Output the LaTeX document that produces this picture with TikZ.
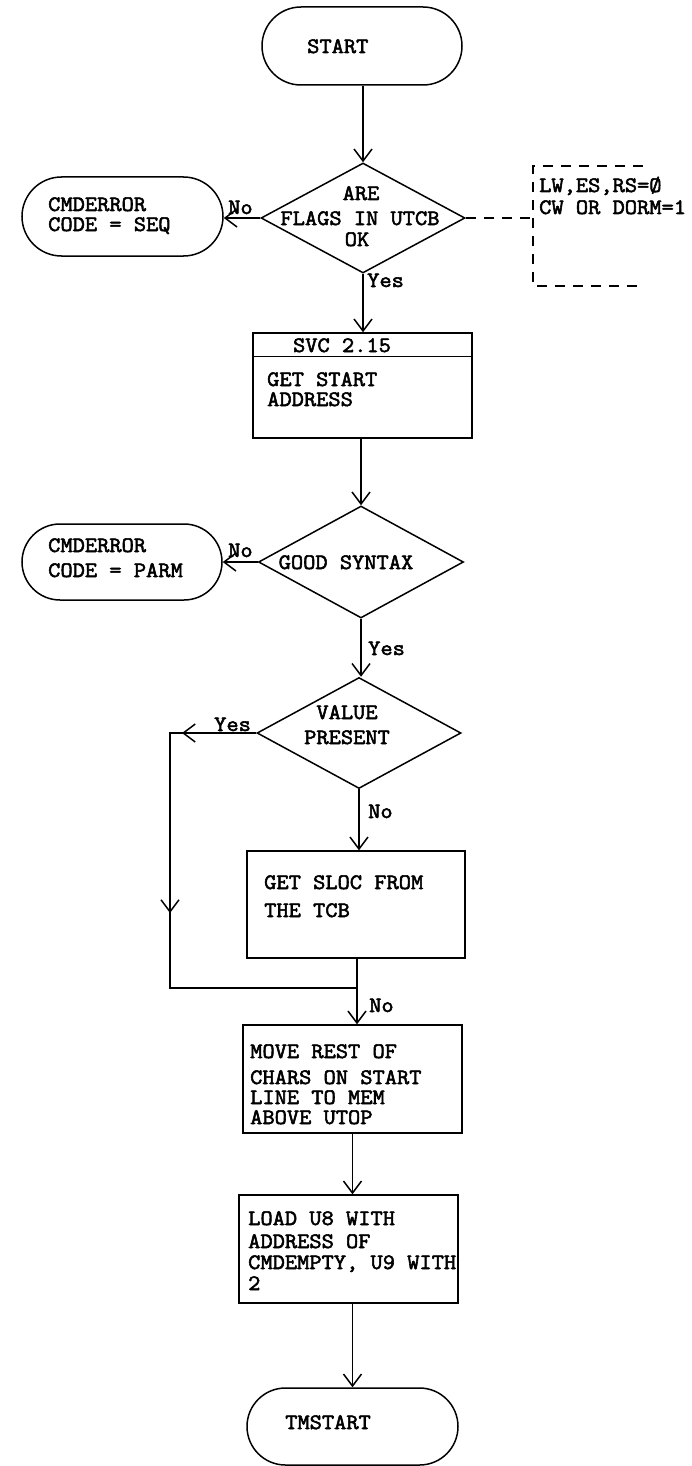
\documentclass[tikz,border=0pt]{standalone}
\usepackage{fontspec}
\setmonofont{Latin Modern Mono}[FakeStretch=1.08,FakeBold=2.5]
\usetikzlibrary{arrows.meta,shapes.geometric,shapes.misc}
\begin{document}
\begin{tikzpicture}[x=1pt,y=-1pt,
  ln/.style={line width=1.5pt},
  arr/.style={ln,-{Straight Barb[length=12pt,width=18pt]}},
  term/.style={draw,ln,rounded rectangle,inner sep=0pt},
  stepbox/.style={draw,ln,rectangle,inner sep=0pt},
  dia/.style={draw,ln,diamond,inner sep=0pt},
  txt/.style={anchor=base west,inner sep=0pt,text height=13pt,text depth=1pt,font=\ttfamily\fontsize{22}{22}\selectfont},
  txtc/.style={txt,anchor=base},
  note/.style={ln,dash pattern=on 10pt off 8pt}
]
\useasboundingbox (0,0) rectangle (692,1466);

% START
\node[term,minimum width=200pt,minimum height=78pt] (start) at (362,46) {};
\node[txt] (tstart) at (307,53) {START};

% decision 1
\node[dia,minimum width=204pt,minimum height=110pt] (d1) at (363,218) {};
\node[txtc] (t1a) at (361,200) {ARE};
\node[txtc] (t1b) at (360,225) {FLAGS IN UTCB};
\node[txtc] (t1c) at (357,246) {OK};

% CMDERROR SEQ
\node[term,minimum width=201pt,minimum height=79pt] (seq) at (122.5,216.5) {};
\node[txt] (tseqa) at (48,211) {CMDERROR};
\node[txt] (tseqb) at (48,231) {CODE = SEQ};

% note bracket
\coordinate (nl) at (533,218);
\draw[note] (643,166) -- (533,166) -- (533,286) -- (643,286);
\node[txt] (tna) at (539,192) {LW,ES,RS=Ø};
\node[txt] (tnb) at (539,214) {CW OR DORM=1};

% SVC box
\node[stepbox,minimum width=219pt,minimum height=105pt] (svc) at (362.5,385.5) {};
\draw[ln] ([yshift=-24pt]svc.north west) -- ([yshift=-24pt]svc.north east);
\node[txtc] (tsvc) at (342,352) {SVC 2.15};
\node[txt] (tsvca) at (267,386) {GET START};
\node[txt] (tsvcb) at (267,406) {ADDRESS};

% decision 2
\node[dia,minimum width=205pt,minimum height=112pt] (d2) at (361,562) {};
\node[txtc] (t2) at (346,569) {GOOD SYNTAX};

% CMDERROR PARM
\node[term,minimum width=200pt,minimum height=76pt] (parm) at (122,562) {};
\node[txt] (tparma) at (48,552) {CMDERROR};
\node[txt] (tparmb) at (48,577) {CODE = PARM};

% decision 3
\node[dia,minimum width=204pt,minimum height=111pt] (d3) at (359,733) {};
\node[txtc] (t3a) at (347,719) {VALUE};
\node[txtc] (t3b) at (347,744) {PRESENT};

% GET SLOC
\node[stepbox,minimum width=218pt,minimum height=107pt] (sloc) at (356,904.5) {};
\node[txt] (tsloca) at (264,889) {GET SLOC FROM};
\node[txt] (tslocb) at (264,917) {THE TCB};

% MOVE
\node[stepbox,minimum width=219pt,minimum height=108pt] (move) at (352.5,1079) {};
\node[txt] (tmova) at (250,1058) {MOVE REST OF};
\node[txt] (tmovb) at (250,1084) {CHARS ON START};
\node[txt] (tmovc) at (250,1104) {LINE TO MEM};
\node[txt] (tmovd) at (250,1124) {ABOVE UTOP};

% LOAD
\node[stepbox,minimum width=219pt,minimum height=108pt] (load) at (348.5,1249) {};
\node[txt] (tloada) at (248,1225) {LOAD U8 WITH};
\node[txt] (tloadb) at (248,1248) {ADDRESS OF};
\node[txt] (tloadc) at (248,1269) {CMDEMPTY, U9 WITH};
\node[txt] (tloadd) at (248,1290) {2};

% TMSTART
\node[term,minimum width=211pt,minimum height=77pt] (tm) at (352.5,1426.5) {};
\node[txt] (ttm) at (285,1429) {TMSTART};

% connectors
\draw[arr] (start.south -| d1.north) -- (d1.north);
\draw[arr] (d1.west) -- (d1.west -| seq.east);
\node[txt] (no1) at (228,214) {No};
\draw[note] (d1.east) -- (nl);
\draw[arr] (d1.south) -- (d1.south |- svc.north);
\node[txt] (yes1) at (367,287) {Yes};
\draw[arr] (svc.south -| d2.north) -- (d2.north);
\draw[arr] (d2.west) -- (d2.west -| parm.east);
\node[txt] (no2) at (228,557) {No};
\draw[arr] (d2.south) -- (d2.south |- d3.north);
\node[txt] (yes2) at (368,655) {Yes};

% yes loop
\coordinate (c1) at (170,733);
\coordinate (c2) at (170,988);
\coordinate (j) at (357,988);
\draw[ln] (d3.west) -- (c1) -- (c2) -- (j);
\draw[arr] (d3.west) -- ([xshift=12pt]c1);
\draw[arr] (c1) -- ([yshift=75pt]c2);
\node[txt] (yes3) at (214,731) {Yes};

\draw[arr] (d3.south) -- (d3.south |- sloc.north);
\node[txt] (no3) at (368,818) {No};
\draw[arr] (sloc.south -| j) -- (j |- move.north);
\node[txt] (no4) at (369,1012) {No};
\draw[arr] (move.south) -- (move.south |- load.north);
\draw[arr] (load.south -| tm.north) -- (tm.north);
\end{tikzpicture}
\end{document}
